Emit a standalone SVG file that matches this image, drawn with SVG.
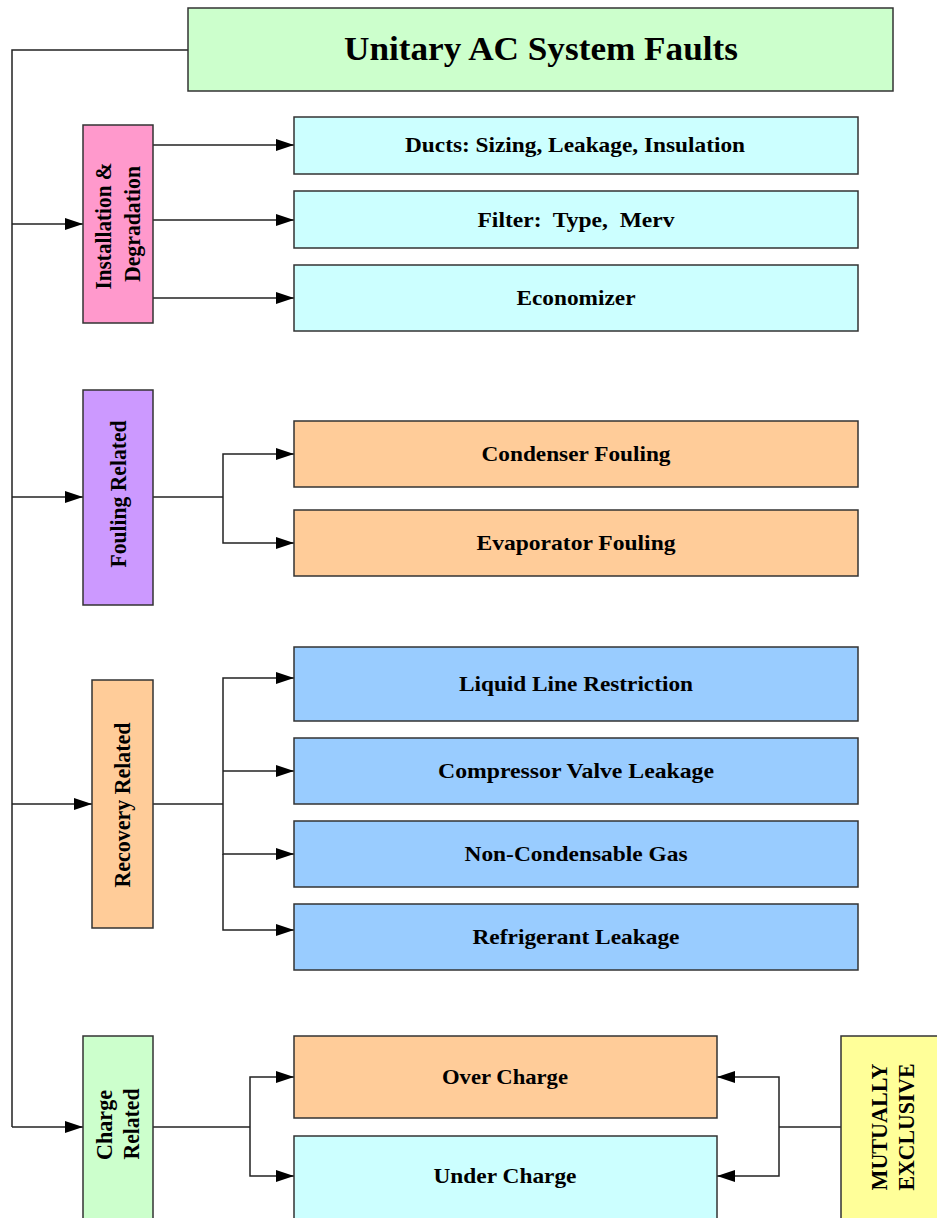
<svg xmlns="http://www.w3.org/2000/svg" width="937" height="1218" viewBox="0 0 937 1218">
  <style>
    .box { stroke: #333333; stroke-width: 1.5; }
    .lbl { font-family: "Liberation Serif", "Times New Roman", serif; font-weight: bold; font-size: 21px; fill: #000; text-anchor: middle; dominant-baseline: central; }
    .vlbl { font-family: "Liberation Serif", "Times New Roman", serif; font-weight: bold; font-size: 23px; fill: #000; text-anchor: middle; dominant-baseline: central; }
    .title { font-family: "Liberation Serif", "Times New Roman", serif; font-weight: bold; font-size: 33px; fill: #000; text-anchor: middle; dominant-baseline: central; }
    .wire { fill: none; stroke: #222222; stroke-width: 1.5; }
    .arr { fill: none; stroke: #222222; stroke-width: 1.5; marker-end: url(#head); }
  </style>
  <defs>
    <marker id="head" markerUnits="userSpaceOnUse" markerWidth="18" markerHeight="12" refX="18" refY="6" orient="auto">
      <path d="M0,0 L18,6 L0,12 Z" fill="#000"/>
    </marker>
  </defs>

  <rect width="937" height="1218" fill="#fff"/>

  <!-- connectors -->
  <g id="connectors">
    <!-- trunk from the title -->
    <path class="wire" d="M188,50 H12 V1127"/>
    <path class="arr" d="M12,224 H83"/>
    <path class="arr" d="M12,497 H83"/>
    <path class="arr" d="M12,804 H92"/>
    <path class="arr" d="M12,1127 H83"/>
    <!-- installation & degradation -->
    <path class="arr" d="M153,145 H294"/>
    <path class="arr" d="M153,220 H294"/>
    <path class="arr" d="M153,298 H294"/>
    <!-- fouling -->
    <path class="wire" d="M153,497 H223"/>
    <path class="arr" d="M223,497 V454 H294"/>
    <path class="arr" d="M223,497 V543 H294"/>
    <!-- recovery -->
    <path class="wire" d="M153,804 H223"/>
    <path class="arr" d="M223,804 V678 H294"/>
    <path class="arr" d="M223,771 H294"/>
    <path class="arr" d="M223,804 V854 H294"/>
    <path class="arr" d="M223,854 V930 H294"/>
    <!-- charge -->
    <path class="wire" d="M153,1127 H250"/>
    <path class="arr" d="M250,1127 V1077 H294"/>
    <path class="arr" d="M250,1127 V1176 H294"/>
    <!-- mutually exclusive -->
    <path class="wire" d="M841,1127 H779"/>
    <path class="arr" d="M779,1127 V1077 H717"/>
    <path class="arr" d="M779,1127 V1176 H717"/>
  </g>

  <g id="title">
    <rect class="box" x="188" y="8" width="705" height="83" fill="#CCFFCC"/>
    <text class="title" x="541" y="49" textLength="394" lengthAdjust="spacingAndGlyphs">Unitary AC System Faults</text>
  </g>

  <g id="installation">
    <rect class="box" x="83" y="125" width="70" height="198" fill="#FF99CC"/>
    <text class="vlbl" transform="translate(103,226) rotate(-90)" textLength="127" lengthAdjust="spacingAndGlyphs">Installation &amp;</text>
    <text class="vlbl" transform="translate(132,224) rotate(-90)" textLength="116" lengthAdjust="spacingAndGlyphs">Degradation</text>
  </g>
  <g id="ducts">
    <rect class="box" x="294" y="117" width="564" height="57" fill="#CCFFFF"/>
    <text class="lbl" x="575" y="145" textLength="340" lengthAdjust="spacingAndGlyphs">Ducts: Sizing, Leakage, Insulation</text>
  </g>
  <g id="filter">
    <rect class="box" x="294" y="191" width="564" height="57" fill="#CCFFFF"/>
    <text class="lbl" x="576" y="220" textLength="197" lengthAdjust="spacingAndGlyphs" xml:space="preserve">Filter:  Type,  Merv</text>
  </g>
  <g id="economizer">
    <rect class="box" x="294" y="265" width="564" height="66" fill="#CCFFFF"/>
    <text class="lbl" x="576" y="298" textLength="119" lengthAdjust="spacingAndGlyphs">Economizer</text>
  </g>

  <g id="fouling">
    <rect class="box" x="83" y="390" width="70" height="215" fill="#CC99FF"/>
    <text class="vlbl" transform="translate(118,494) rotate(-90)" textLength="147" lengthAdjust="spacingAndGlyphs">Fouling Related</text>
  </g>
  <g id="condenser">
    <rect class="box" x="294" y="421" width="564" height="66" fill="#FFCC99"/>
    <text class="lbl" x="576" y="454" textLength="189" lengthAdjust="spacingAndGlyphs">Condenser Fouling</text>
  </g>
  <g id="evaporator">
    <rect class="box" x="294" y="510" width="564" height="66" fill="#FFCC99"/>
    <text class="lbl" x="576" y="543" textLength="199" lengthAdjust="spacingAndGlyphs">Evaporator Fouling</text>
  </g>

  <g id="recovery">
    <rect class="box" x="92" y="680" width="61" height="248" fill="#FFCC99"/>
    <text class="vlbl" transform="translate(122,805) rotate(-90)" textLength="165" lengthAdjust="spacingAndGlyphs">Recovery Related</text>
  </g>
  <g id="liquid-line">
    <rect class="box" x="294" y="647" width="564" height="74" fill="#99CCFF"/>
    <text class="lbl" x="576" y="684" textLength="234" lengthAdjust="spacingAndGlyphs">Liquid Line Restriction</text>
  </g>
  <g id="compressor">
    <rect class="box" x="294" y="738" width="564" height="66" fill="#99CCFF"/>
    <text class="lbl" x="576" y="771" textLength="276" lengthAdjust="spacingAndGlyphs">Compressor Valve Leakage</text>
  </g>
  <g id="non-condensable">
    <rect class="box" x="294" y="821" width="564" height="66" fill="#99CCFF"/>
    <text class="lbl" x="576" y="854" textLength="223" lengthAdjust="spacingAndGlyphs">Non-Condensable Gas</text>
  </g>
  <g id="refrigerant">
    <rect class="box" x="294" y="904" width="564" height="66" fill="#99CCFF"/>
    <text class="lbl" x="576" y="937" textLength="207" lengthAdjust="spacingAndGlyphs">Refrigerant Leakage</text>
  </g>

  <g id="charge">
    <rect class="box" x="83" y="1036" width="70" height="190" fill="#CCFFCC"/>
    <text class="vlbl" transform="translate(104,1125) rotate(-90)" textLength="70" lengthAdjust="spacingAndGlyphs">Charge</text>
    <text class="vlbl" transform="translate(131,1124) rotate(-90)" textLength="71" lengthAdjust="spacingAndGlyphs">Related</text>
  </g>
  <g id="over-charge">
    <rect class="box" x="294" y="1036" width="423" height="82" fill="#FFCC99"/>
    <text class="lbl" x="505" y="1077" textLength="126" lengthAdjust="spacingAndGlyphs">Over Charge</text>
  </g>
  <g id="under-charge">
    <rect class="box" x="294" y="1136" width="423" height="90" fill="#CCFFFF"/>
    <text class="lbl" x="505" y="1176" textLength="143" lengthAdjust="spacingAndGlyphs">Under Charge</text>
  </g>

  <g id="mutually-exclusive">
    <rect class="box" x="841" y="1036" width="110" height="190" fill="#FFFF99"/>
    <text class="vlbl" transform="translate(879,1127) rotate(-90)" textLength="127" lengthAdjust="spacingAndGlyphs">MUTUALLY</text>
    <text class="vlbl" transform="translate(906,1127) rotate(-90)" textLength="127" lengthAdjust="spacingAndGlyphs">EXCLUSIVE</text>
  </g>
</svg>
